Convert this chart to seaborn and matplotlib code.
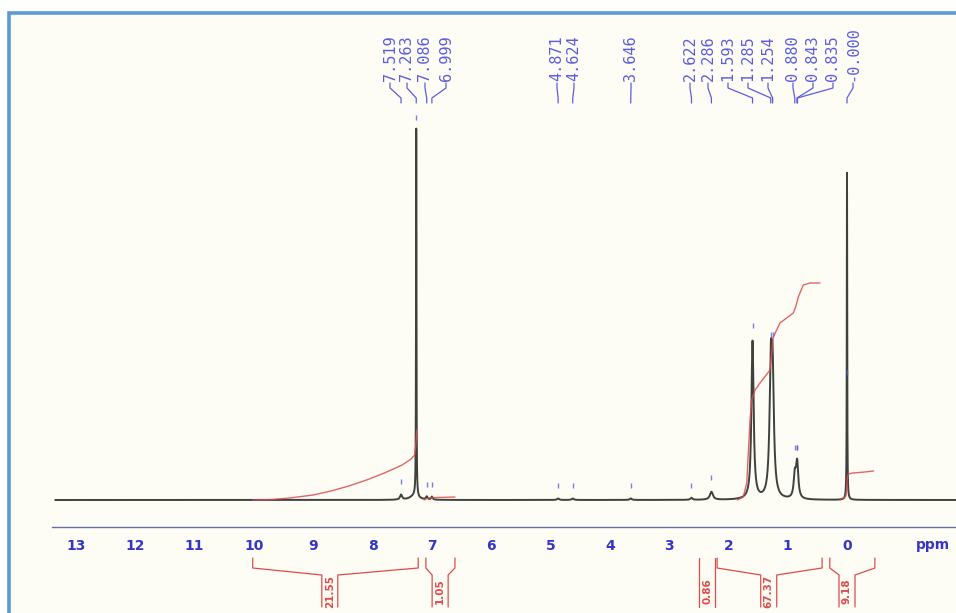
import numpy as np
import pandas as pd
import matplotlib
matplotlib.use("Agg")
import matplotlib.pyplot as plt
import seaborn as sns
from matplotlib.patches import Rectangle
from matplotlib.ticker import MultipleLocator, FixedLocator

# ---------------- data ----------------
# peak list: chemical shift (ppm), height (arb.), half width (ppm)
peak_ppm = [7.519, 7.300, 7.263, 7.086, 6.999, 4.871, 4.624, 3.646, 2.622,
            2.286, 1.593, 1.285, 1.254, 0.880, 0.843, 0.835, 0.000]
peak_height = [5, 4, 368, 3, 3, 1.5, 1.5, 1.5, 2,
               8, 158, 113, 108, 22, 26, 10, 328]
peak_hwhm = [0.02, 0.08, 0.004, 0.015, 0.015, 0.02, 0.02, 0.02, 0.02,
             0.03, 0.022, 0.025, 0.025, 0.022, 0.022, 0.022, 0.004]

# peak picking labels
pick_labels = ["7.519", "7.263", "7.086", "6.999", "4.871", "4.624", "3.646",
               "2.622", "2.286", "1.593", "1.285", "1.254", "0.880", "0.843",
               "0.835", "-0.000"]
pick_ppm = [7.519, 7.263, 7.086, 6.999, 4.871, 4.624, 3.646, 2.622, 2.286,
            1.593, 1.285, 1.254, 0.880, 0.843, 0.835, 0.000]
pick_marker = [16, 380, 13, 13, 12, 12, 12, 12, 20, 172, 163, 163, 50, 50, 50, 125]

# integral curves (ppm, cumulative value)
int1_ppm = [10.02, 9.7, 9.4, 9.0, 8.7, 8.4, 8.1, 7.8, 7.5, 7.35, 7.29, 7.265, 7.255]
int1_val = [0, 0.5, 2, 5, 9, 14, 20, 27, 35, 41, 45, 58, 70]
int2_ppm = [7.13, 7.10, 7.05, 6.90, 6.61]
int2_val = [0, 1, 2, 2.5, 3]
int3_ppm = [1.85, 1.75, 1.69, 1.635, 1.607, 1.55, 1.467, 1.298, 1.27, 1.243,
            1.13, 0.905, 0.86, 0.821, 0.737, 0.624, 0.455]
int3_val = [0, 3, 17, 80, 100, 110, 117, 130, 147, 163,
            177, 187, 194, 203, 215, 217, 217]
int4_ppm = [0.12, 0.05, 0.02, 0.005, -0.005, -0.02, -0.1, -0.3, -0.45]
int4_val = [1, 2, 4, 10, 22, 26, 27, 28, 29]

# integral values shown under the axis
int_labels = ["21.55", "1.05", "0.86", "67.37", "9.18"]
int_left = [10.02, 7.10, 2.36, 2.19, 0.29]
int_right = [7.23, 6.61, 2.36, 0.42, -0.47]
int_center = [8.72, 6.86, 2.36, 1.32, 0.00]

tick_values = list(range(0, 14))

# ---------------- layout ----------------
W, H = 956, 613
PX = 59.31                      # pixels per ppm
X0 = 847                        # pixel of 0 ppm
label_px = [390, 407, 425, 446, 557, 574, 631, 690, 708, 728, 748, 768,
            793, 813, 833, 853]
label_pos = [(X0 - p) / PX for p in label_px]

BLUE_TXT = "#3434c8"
BLUE_LAB = "#5c5ce0"
RED = "#e04a4a"
SPEC = "#3e423e"

sns.set_style("white")
plt.rcParams["font.family"] = ["DejaVu Sans"]

fig = plt.figure(figsize=(W / 100, H / 100), dpi=100)
fig.patch.set_facecolor("white")
fig.add_artist(Rectangle((8.5 / W, -0.05), 2.0, 1.05 - 12.5 / H,
                         transform=fig.transFigure, facecolor="#fdfdf5",
                         edgecolor="#5b9bd5", lw=2.6, zorder=-5))

ax = fig.add_axes([0, 0, 1, 1])
ax.patch.set_visible(False)
ax.set_xlim(X0 / PX, -(W - X0) / PX)
ax.set_ylim(-(H - 500), 500)

# spectrum
x = np.linspace(13.35, -1.9, 30000)
y = np.zeros_like(x)
for c, h, g in zip(peak_ppm, peak_height, peak_hwhm):
    y += h * g * g / ((x - c) ** 2 + g * g)
spec = pd.DataFrame({"ppm": x, "intensity": y})
sns.lineplot(data=spec, x="ppm", y="intensity", ax=ax, color=SPEC, lw=1.4,
             estimator=None, sort=False, zorder=3)

# integrals
for ip, iv in [(int1_ppm, int1_val), (int2_ppm, int2_val),
               (int3_ppm, int3_val), (int4_ppm, int4_val)]:
    ax.plot(ip, iv, color=RED, lw=1.0, zorder=4, alpha=0.85)

# peak markers
ax.vlines(pick_ppm, np.array(pick_marker), np.array(pick_marker) + 5,
          color=BLUE_LAB, lw=1.0, zorder=5, alpha=0.8)

# peak labels with leader lines
for lab, pos, pk in zip(pick_labels, label_pos, pick_ppm):
    ax.plot([pos, pos, pk, pk], [417, 412, 402, 397], color=BLUE_LAB, lw=0.9)
    ax.text(pos, 419, lab, rotation=90, ha="center", va="bottom",
            fontsize=11, family="DejaVu Sans Mono", color=BLUE_LAB)

# ppm axis
ax.yaxis.set_visible(False)
for s in ["left", "right", "top"]:
    ax.spines[s].set_visible(False)
ax.spines["bottom"].set_position(("data", -27))
ax.spines["bottom"].set_bounds(13.4, -1.84)
ax.spines["bottom"].set_color("#6b6bb0")
ax.spines["bottom"].set_linewidth(1.0)
ax.xaxis.set_major_locator(FixedLocator(tick_values))
ax.xaxis.set_minor_locator(MultipleLocator(0.1))
ax.tick_params(axis="x", which="major", direction="out", length=4, width=0.8,
               color="#6b6bb0", pad=5, labelsize=10, labelcolor=BLUE_TXT)
ax.tick_params(axis="x", which="minor", direction="out", length=2, width=0.6,
               color="#8a8ac0")
ax.set_xticklabels([str(v) for v in tick_values], fontweight="bold")
ax.set_xlabel("")
ax.text((X0 - 933) / PX, -45, "ppm", ha="center", va="center",
        fontsize=10, fontweight="bold", color=BLUE_TXT)

# integral brackets and values
hw = 8 / PX
for lab, l, r, c in zip(int_labels, int_left, int_right, int_center):
    if abs(l - r) > 1e-6:
        ax.plot([l, l, c + hw, c + hw], [-58, -68, -75, -107], color=RED, lw=0.9)
        ax.plot([r, r, c - hw, c - hw], [-58, -68, -75, -107], color=RED, lw=0.9)
    else:
        ax.plot([c + hw, c + hw], [-58, -107], color=RED, lw=0.9)
        ax.plot([c - hw, c - hw], [-58, -107], color=RED, lw=0.9)
    ax.text(c, -91, lab, rotation=90, ha="center", va="center",
            fontsize=7.5, fontweight="bold", color=RED)

fig.savefig("out.png", dpi=100)
